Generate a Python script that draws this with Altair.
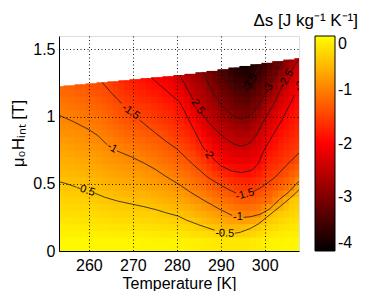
import altair as alt
import pandas as pd

# Temperature columns [K] and the upper limit of the measured internal field [T]
T_COLS = [253, 255.5, 258, 260.5, 263, 265.5, 268, 270.5, 273, 275.5, 278, 280.5,
          283, 285.5, 288, 290.5, 293, 295.5, 298, 300.5, 303, 305.5, 308]
H_TOP = [1.225, 1.232, 1.24, 1.247, 1.255, 1.262, 1.27, 1.278, 1.286, 1.293, 1.30, 1.308,
         1.318, 1.33, 1.34, 1.352, 1.365, 1.377, 1.39, 1.40, 1.412, 1.424, 1.435]
T_STEP = 2.5
H_STEP = 0.1

# Delta s [J/kg/K], one list per temperature column, field rows from 0 T upward
DS_GRID = [
    [-0.05, -0.14, -0.24, -0.34, -0.43, -0.53, -0.63, -0.73, -0.84, -0.94, -1.04, -1.15, -1.20],
    [-0.05, -0.15, -0.25, -0.35, -0.45, -0.55, -0.66, -0.76, -0.87, -0.97, -1.08, -1.20, -1.27],
    [-0.05, -0.16, -0.27, -0.37, -0.48, -0.59, -0.69, -0.80, -0.90, -1.01, -1.13, -1.25, -1.33],
    [-0.06, -0.17, -0.28, -0.40, -0.51, -0.62, -0.73, -0.84, -0.96, -1.07, -1.20, -1.32, -1.40],
    [-0.06, -0.18, -0.30, -0.43, -0.55, -0.67, -0.79, -0.90, -1.02, -1.14, -1.27, -1.39, -1.48],
    [-0.07, -0.20, -0.33, -0.46, -0.59, -0.72, -0.85, -0.97, -1.11, -1.24, -1.37, -1.50, -1.61],
    [-0.07, -0.21, -0.35, -0.49, -0.63, -0.76, -0.90, -1.04, -1.19, -1.34, -1.49, -1.63, -1.74],
    [-0.07, -0.22, -0.36, -0.51, -0.64, -0.79, -0.93, -1.09, -1.25, -1.41, -1.56, -1.70, -1.83],
    [-0.08, -0.23, -0.38, -0.54, -0.70, -0.85, -1.01, -1.16, -1.31, -1.46, -1.61, -1.77, -1.91],
    [-0.08, -0.25, -0.41, -0.58, -0.75, -0.92, -1.08, -1.23, -1.39, -1.55, -1.70, -1.86, -2.00],
    [-0.09, -0.27, -0.45, -0.63, -0.81, -1.00, -1.17, -1.33, -1.50, -1.65, -1.80, -1.95, -2.15],
    [-0.10, -0.29, -0.49, -0.69, -0.90, -1.09, -1.28, -1.47, -1.63, -1.78, -1.94, -2.14, -2.36, -2.49],
    [-0.11, -0.34, -0.57, -0.80, -1.02, -1.21, -1.40, -1.60, -1.79, -1.98, -2.21, -2.45, -2.64, -2.75],
    [-0.13, -0.39, -0.65, -0.90, -1.14, -1.36, -1.60, -1.83, -2.07, -2.30, -2.52, -2.67, -2.83, -2.93],
    [-0.16, -0.47, -0.75, -1.03, -1.29, -1.56, -1.85, -2.11, -2.33, -2.54, -2.73, -2.92, -3.12, -3.25],
    [-0.19, -0.55, -0.85, -1.14, -1.42, -1.73, -2.05, -2.27, -2.50, -2.73, -2.95, -3.15, -3.35, -3.49],
    [-0.19, -0.57, -0.94, -1.24, -1.53, -1.85, -2.14, -2.39, -2.63, -2.88, -3.11, -3.34, -3.57, -3.75],
    [-0.17, -0.50, -1.00, -1.29, -1.59, -1.89, -2.16, -2.41, -2.67, -2.92, -3.17, -3.40, -3.64, -3.85],
    [-0.14, -0.41, -0.91, -1.23, -1.50, -1.79, -2.06, -2.25, -2.44, -2.69, -2.97, -3.20, -3.43, -3.65],
    [-0.10, -0.30, -0.50, -1.12, -1.36, -1.57, -1.75, -1.93, -2.13, -2.33, -2.56, -2.88, -3.13, -3.35],
    [-0.08, -0.23, -0.39, -0.80, -1.21, -1.47, -1.62, -1.76, -1.89, -2.04, -2.25, -2.46, -2.75, -3.05, -3.17],
    [-0.06, -0.19, -0.32, -0.45, -1.02, -1.26, -1.50, -1.62, -1.74, -1.86, -1.98, -2.17, -2.38, -2.63, -2.82],
    [-0.05, -0.16, -0.27, -0.38, -0.49, -1.07, -1.31, -1.52, -1.62, -1.72, -1.83, -1.93, -2.07, -2.28, -2.42],
]

# Contour lines (T, H), split where the labels sit
C_05 = [[(253.2, 0.516), (255, 0.50), (257.2, 0.475)],
        [(261.4, 0.43), (263.6, 0.40), (266.5, 0.372), (269.9, 0.348), (272.5, 0.33), (275, 0.31),
         (277.5, 0.285), (280.3, 0.26), (282.2, 0.23), (285, 0.195), (288.6, 0.155)],
        [(293.2, 0.132), (294.5, 0.14), (296.6, 0.166), (298.5, 0.20), (300.4, 0.25), (302.3, 0.30),
         (304.2, 0.35), (306, 0.40), (307.8, 0.455)]]
C_10 = [[(253.2, 1.01), (256, 0.97), (259.8, 0.907), (262, 0.86), (264.2, 0.79)],
        [(266.4, 0.745), (269.7, 0.70), (272.5, 0.655), (275, 0.61), (277.5, 0.555), (280.3, 0.50),
         (283, 0.44), (286, 0.38), (289.8, 0.31), (292.6, 0.265)],
        [(295.2, 0.25), (296.8, 0.255), (298.9, 0.273), (301, 0.31), (303.4, 0.385), (305.5, 0.44),
         (307.8, 0.52)]]
C_15 = [[(263, 1.255), (265.3, 1.17), (267.5, 1.097)],
        [(271.5, 0.975), (274.5, 0.895), (277.4, 0.82), (280, 0.76), (283.5, 0.65), (287.1, 0.547),
         (290, 0.49), (292.4, 0.447), (293.5, 0.432)],
        [(297.5, 0.443), (299.5, 0.48), (302.3, 0.547), (305, 0.64), (307.8, 0.73)]]
C_20 = [[(274.2, 1.29), (277, 1.21), (280.7, 1.107), (283, 0.96), (285.5, 0.80), (286.4, 0.75)],
        [(287.9, 0.70), (290, 0.635), (292.5, 0.595), (294.7, 0.584), (297, 0.60), (298.5, 0.65),
         (300, 0.76), (302, 0.87), (304, 0.98), (306.8, 1.16)]]
C_25 = [[(280.7, 1.308), (282.5, 1.2), (283.5, 1.14)],
        [(285.5, 1.03), (288, 0.93), (290.5, 0.85), (293, 0.795), (294.7, 0.78), (296.5, 0.80),
         (298, 0.86), (300, 0.98), (302, 1.09), (304.2, 1.24)],
        [(305.6, 1.32), (307, 1.39), (307.8, 1.43)]]
C_30 = [[(286, 1.333), (288, 1.19), (290.5, 1.07), (293, 1.0), (294.7, 0.98), (296.5, 1.0),
         (298, 1.06), (300.1, 1.17)],
        [(301.5, 1.25), (303.3, 1.37), (303.9, 1.41)]]
C_35 = [[(290.4, 1.352), (292, 1.26), (293.5, 1.21), (295, 1.19), (296.1, 1.215)],
        [(297.3, 1.29), (298.2, 1.34), (298.9, 1.39)]]
CONTOURS = {"-0.5": C_05, "-1": C_10, "-1.5": C_15, "-2": C_20,
            "-2.5": C_25, "-3": C_30, "-3.5": C_35}

# Contour labels
LBL_TEXT = ["-0.5", "-0.5", "-1", "-1", "-1.5", "-1.5", "-2", "-2", "-2.5", "-2.5", "-3", "-3.5"]
LBL_T = [259.3, 290.9, 265.3, 293.9, 269.5, 295.5, 287.1, 307.9, 284.5, 304.9, 300.8, 296.7]
LBL_H = [0.452, 0.13, 0.767, 0.252, 1.035, 0.42, 0.725, 1.225, 1.085, 1.28, 1.21, 1.25]
LBL_ANG = [18, 2, 30, 0, 35, 345, 58, 300, 57, 300, 300, 300]

CBAR_TICKS = [0, -1, -2, -3, -4]

FONT = "Liberation Sans"


# ---- tables ----
def cell_table(shift_t, shift_h, overlap=0.0):
    """Grid cells, optionally shifted by half a cell (used for shaded blending)."""
    out = []
    n = len(T_COLS)
    for ci, (t, vals) in enumerate(zip(T_COLS, DS_GRID)):
        top = H_TOP[ci]
        if shift_t:
            top = min(top, H_TOP[min(ci + 1, n - 1)])
        for k, v in enumerate(vals):
            lo = round(k * H_STEP + shift_h, 3)
            hi = min(round(lo + H_STEP + overlap * 0.01, 3), top)
            if lo >= hi:
                continue
            out.append({"T0": t - T_STEP / 2 + shift_t,
                        "T1": t + T_STEP / 2 + shift_t + overlap * 0.2,
                        "H0": lo, "H1": hi, "ds": v})
    return pd.DataFrame(out)


lines = []
for lvl, segs in CONTOURS.items():
    for si, seg in enumerate(segs):
        for i, (t, h) in enumerate(seg):
            lines.append({"T": t, "H": h, "seg": f"{lvl}_{si}", "i": i})
lines = pd.DataFrame(lines)

labels = pd.DataFrame({"T": LBL_T, "H": LBL_H, "txt": LBL_TEXT, "ang": LBL_ANG})

color_scale = alt.Scale(domain=[-4, -2, 0], range=["#000000", "#ff0000", "#ffff00"],
                        interpolate="rgb")
xscale = alt.Scale(domain=[253.2, 307.8], nice=False, zero=False)
yscale = alt.Scale(domain=[0, 1.6], nice=False, zero=False)

grid_style = dict(gridColor="black", gridDash=[1, 2.5], gridWidth=1, gridOpacity=0.9,
                  domainColor="black", labelFont=FONT, titleFont=FONT, labelColor="black",
                  titleColor="black", ticks=False, grid=True, zindex=1, labelFontSize=16,
                  titleFontWeight="normal")

base = alt.Chart(cell_table(0, 0, overlap=1.0)).mark_rect(clip=True, strokeWidth=0).encode(
    x=alt.X("T0:Q", scale=xscale,
            axis=alt.Axis(values=[260, 270, 280, 290, 300], title="Temperature [K]",
                          labelPadding=6, titlePadding=2, titleFontSize=16, **grid_style)),
    x2="T1:Q",
    y=alt.Y("H0:Q", scale=yscale,
            axis=alt.Axis(values=[0, 0.5, 1, 1.5], format="~g", title="μ₀Hᵢₙₜ [T]",
                          labelPadding=4, titleX=-41, titleY=97, titleAngle=270,
                          titleAlign="center", titleBaseline="middle", titleFontSize=17,
                          **grid_style)),
    y2="H1:Q",
    color=alt.Color("ds:Q", scale=color_scale,
                    legend=alt.Legend(type="gradient", orient="none", legendX=256, legendY=0,
                                      direction="vertical", gradientLength=215,
                                      gradientThickness=20, title=None,
                                      values=CBAR_TICKS, labelFontSize=16,
                                      labelExpr="datum.value < 0 ? '-' + abs(datum.value) : '' + datum.value",
                                      labelFont=FONT, labelOffset=3, labelColor="black",
                                      gradientStrokeColor="black", gradientStrokeWidth=1)),
)


def blend_layer(shift_t, shift_h, opacity):
    return alt.Chart(cell_table(shift_t, shift_h)).mark_rect(
        clip=True, opacity=opacity, strokeWidth=0).encode(
        x="T0:Q", x2="T1:Q", y="H0:Q", y2="H1:Q",
        color=alt.Color("ds:Q", scale=color_scale, legend=None))


shade = [base,
         blend_layer(T_STEP / 2, 0, 1 / 2),
         blend_layer(0, H_STEP / 2, 1 / 3),
         blend_layer(T_STEP / 2, H_STEP / 2, 1 / 4)]

contour = alt.Chart(lines).mark_line(color="#1c1c1c", strokeWidth=0.8, clip=True).encode(
    x="T:Q", y="H:Q", detail="seg:N", order="i:Q")

text = alt.Chart(labels).mark_text(font=FONT, fontSize=11, color="black", clip=True).encode(
    x="T:Q", y="H:Q", text="txt:N", angle=alt.Angle("ang:Q", scale=None))

chart = alt.layer(*shade, contour, text).properties(
    width=240, height=215,
    autosize=alt.AutoSizeParams(type="none"),
    padding={"left": 51, "top": 28, "right": 83, "bottom": 40},
    title=alt.TitleParams("Δs [J kg⁻¹ K⁻¹]", anchor="end", frame="group", dx=59,
                          fontSize=17, fontWeight="normal", font=FONT, color="black",
                          offset=6),
).configure_view(stroke="black", strokeWidth=1).configure(background="white")

chart.save("out.html", embed_options={"renderer": "svg", "actions": False})
